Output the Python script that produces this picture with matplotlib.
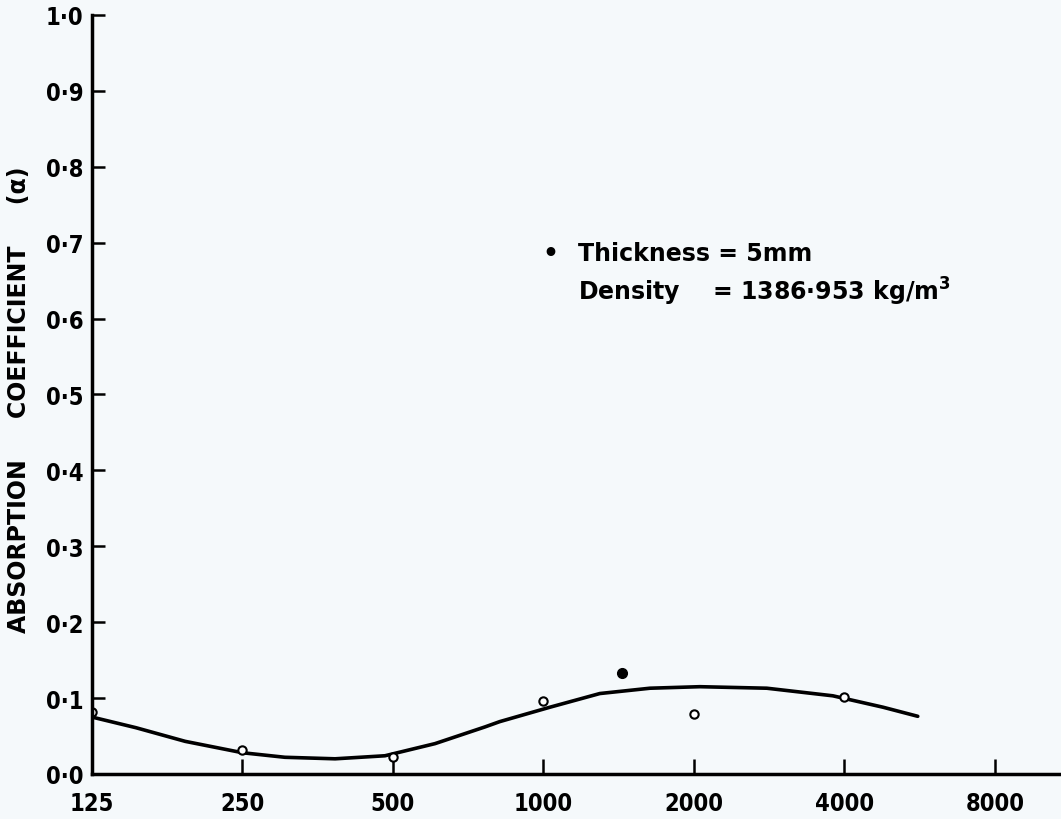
import matplotlib
matplotlib.use("Agg")
import matplotlib.pyplot as plt

# measured points (frequency Hz, absorption coefficient)
freq = [125, 250, 500, 1000, 2000, 4000]
alpha = [0.082, 0.032, 0.022, 0.096, 0.079, 0.101]
# odd filled point between 1000 and 2000
extra_freq = [1434]
extra_alpha = [0.133]

# hand drawn smooth curve, read along its length
curve_freq = [125, 153, 192, 250, 304, 383, 482, 607, 764, 818, 1031,
              1297, 1634, 2056, 2799, 3794, 4778, 5610]
curve_alpha = [0.075, 0.061, 0.043, 0.028, 0.022, 0.020, 0.024, 0.040, 0.062,
               0.069, 0.088, 0.106, 0.113, 0.115, 0.113, 0.103, 0.088, 0.076]

xticks = [125, 250, 500, 1000, 2000, 4000, 8000]
yticks = [0.0, 0.1, 0.2, 0.3, 0.4, 0.5, 0.6, 0.7, 0.8, 0.9, 1.0]
ylabels = ["0·0", "0·1", "0·2", "0·3", "0·4", "0·5", "0·6", "0·7", "0·8", "0·9", "1·0"]

bg = "#f5f9fb"
fig = plt.figure(figsize=(10.61, 8.2), dpi=100, facecolor=bg)
ax = fig.add_axes([0.0867, 0.0549, 0.9133, 0.9256], facecolor=bg)

ax.plot(curve_freq, curve_alpha, color="black", lw=2.6,
        solid_capstyle="round", solid_joinstyle="round")
ax.plot(freq, alpha, "o", ms=6, mfc="white", mec="black", mew=1.5)
ax.plot(extra_freq, extra_alpha, "o", ms=7, color="black")

ax.set_xscale("log", base=2)
ax.set_xlim(125, 125 * 2 ** 6.44)
ax.set_ylim(0, 1.0)
ax.set_xticks(xticks)
ax.set_xticklabels([str(v) for v in xticks])
ax.minorticks_off()
ax.set_yticks(yticks)
ax.set_yticklabels(ylabels)

for s in ["top", "right"]:
    ax.spines[s].set_visible(False)
for s in ["left", "bottom"]:
    ax.spines[s].set_linewidth(2.5)
ax.tick_params(axis="y", direction="in", length=9, width=1.8, pad=6,
               labelsize=17)
ax.tick_params(axis="x", direction="in", length=11, width=1.8, pad=12,
               labelsize=17)
for t in ax.get_xticklabels() + ax.get_yticklabels():
    t.set_fontweight("bold")
    t.set_fontstretch("condensed")

fig.text(0.018, 0.512, "ABSORPTION     COEFFICIENT     (α)", rotation=90,
         ha="center", va="center", fontsize=17, fontweight="bold")

# legend note
fig.text(0.519, 1 - 254 / 820, "•", fontsize=18, ha="center", va="center",
         fontweight="bold")
fig.text(0.545, 1 - 254 / 820, "Thickness = 5mm", fontsize=17, va="center",
         fontweight="bold")
fig.text(0.545, 1 - 292 / 820, "Density    = 1386·953 kg/m$^\\mathbf{3}$",
         fontsize=17, va="center", fontweight="bold")

fig.savefig("out.png", dpi=100, facecolor=bg)
